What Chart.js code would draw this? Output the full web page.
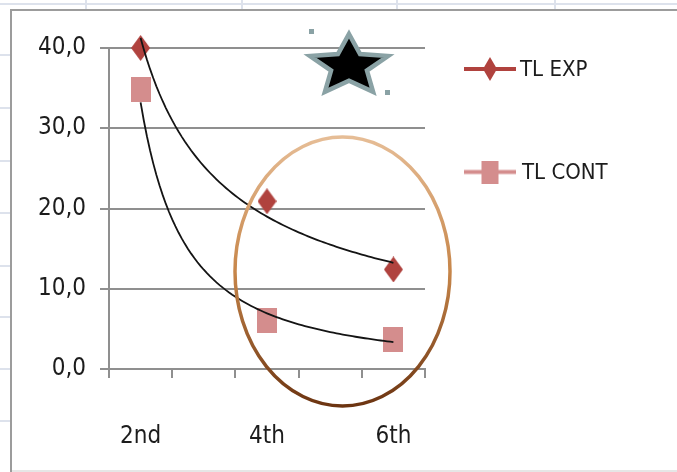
<!DOCTYPE html>
<html>
<head>
<meta charset="utf-8">
<script src="https://cdn.jsdelivr.net/npm/chart.js@4.4.1/dist/chart.umd.min.js"></script>
<style>
  html, body { margin: 0; padding: 0; background: #fff; }
  canvas { display: block; }
</style>
</head>
<body>
<canvas id="chart" width="677" height="472"></canvas>
<script>
// Grades on the category axis; every other label is shown
const grades = ['2nd', '3rd', '4th', '5th', '6th'];
// Series values (no measurement for 3rd and 5th)
const tlExp = [40.0, null, 20.9, null, 12.4];
const tlCont = [34.8, null, 6.0, null, 3.7];
const seriesNames = ['TL EXP', 'TL CONT'];
const yTicks = [0, 10, 20, 30, 40];

const FONT = "'DejaVu Sans Condensed', 'DejaVu Sans', sans-serif";
const TEXT = '#1c1c1c';
const AXIS = '#8f8f8f';
const EXP_COLOR = '#b0423e';
const CONT_COLOR = '#d48d8d';

// Least-squares power trendline y = a * x^b over the category index (1-based)
function powerTrend(values) {
  const pts = values.map((v, i) => [i + 1, v]).filter(p => p[1] != null);
  const n = pts.length;
  let sx = 0, sy = 0, sxx = 0, sxy = 0;
  pts.forEach(([x, y]) => {
    const lx = Math.log(x), ly = Math.log(y);
    sx += lx; sy += ly; sxx += lx * lx; sxy += lx * ly;
  });
  const b = (n * sxy - sx * sy) / (n * sxx - sx * sx);
  const a = Math.exp((sy - b * sx) / n);
  const x0 = pts[0][0], x1 = pts[n - 1][0];
  const out = [];
  const steps = 80;
  for (let k = 0; k <= steps; k++) {
    const x = x0 + (x1 - x0) * k / steps;
    out.push({ x, y: a * Math.pow(x, b) });
  }
  return out;
}

// Marker sprites: optional legend line behind a diamond or square
function markSprite(shape, w, h, color, lineLen, lineW) {
  const cw = Math.max(w, lineLen || 0), ch = h;
  const c = document.createElement('canvas');
  c.width = cw; c.height = ch;
  const g = c.getContext('2d');
  if (lineLen) {
    g.strokeStyle = color; g.lineWidth = lineW;
    g.beginPath(); g.moveTo(0, ch / 2); g.lineTo(cw, ch / 2); g.stroke();
  }
  g.fillStyle = color;
  if (shape === 'diamond') {
    g.beginPath();
    g.moveTo(cw / 2, 0); g.lineTo(cw / 2 + w / 2, ch / 2);
    g.lineTo(cw / 2, ch); g.lineTo(cw / 2 - w / 2, ch / 2);
    g.closePath(); g.fill();
  } else {
    g.fillRect((cw - w) / 2, 0, w, h);
  }
  return c;
}

const expMark = markSprite('diamond', 19, 26, EXP_COLOR);
const contMark = markSprite('square', 20, 25, CONT_COLOR);
const expLegend = markSprite('diamond', 14, 24, EXP_COLOR, 52, 4);
const contLegend = markSprite('square', 17, 23, CONT_COLOR, 52, 4);

// Sheet background, chart frame, and the hand-drawn highlights
const decor = {
  id: 'decor',
  beforeDraw(chart) {
    const g = chart.ctx;
    g.save();
    g.fillStyle = '#fff';
    g.fillRect(0, 0, chart.width, chart.height);
    // worksheet cell lines peeking around the chart object
    g.strokeStyle = '#dde2ec';
    g.lineWidth = 2;
    g.beginPath(); g.moveTo(0, 4); g.lineTo(chart.width, 4); g.stroke();
    [86, 242, 397, 555].forEach(x => { g.beginPath(); g.moveTo(x, 0); g.lineTo(x, 9); g.stroke(); });
    [55, 108, 161, 213, 266, 317, 369, 421].forEach(y => { g.beginPath(); g.moveTo(0, y); g.lineTo(10, y); g.stroke(); });
    g.strokeStyle = '#e6e6e6';
    g.beginPath(); g.moveTo(11, 471); g.lineTo(chart.width, 471); g.stroke();
    // chart frame
    g.strokeStyle = '#9c9c9c';
    g.lineWidth = 2;
    g.beginPath(); g.moveTo(11, chart.height); g.lineTo(11, 10); g.lineTo(chart.width, 10); g.stroke();
    g.restore();
  },
  afterDatasetsDraw(chart) {
    const g = chart.ctx;
    g.save();
    // oval around the 4th and 6th grade points
    const cx = 342.5, cy = 271.5, rx = 107.5, ry = 134.5;
    const grad = g.createLinearGradient(0, cy - ry, 0, cy + ry);
    grad.addColorStop(0, '#e6bd96');
    grad.addColorStop(0.5, '#c7864a');
    grad.addColorStop(1, '#6c3411');
    g.strokeStyle = grad;
    g.lineWidth = 3.5;
    g.beginPath(); g.ellipse(cx, cy, rx, ry, 0, 0, Math.PI * 2); g.stroke();
    // star
    const sx = 349, sy = 66, Rx = 41, Ry = 32, ratio = 0.46;
    g.beginPath();
    for (let k = 0; k < 10; k++) {
      const ang = -Math.PI / 2 + k * Math.PI / 5;
      const r = k % 2 === 0 ? 1 : ratio;
      const px = sx + Math.cos(ang) * Rx * r, py = sy + Math.sin(ang) * Ry * r;
      if (k === 0) g.moveTo(px, py); else g.lineTo(px, py);
    }
    g.closePath();
    g.fillStyle = '#000';
    g.fill();
    g.strokeStyle = '#8aa2a5';
    g.lineWidth = 4.5;
    g.lineJoin = 'miter';
    g.miterLimit = 10;
    g.stroke();
    g.fillStyle = '#8aa2a5';
    g.fillRect(309, 29, 5, 5);
    g.fillRect(385, 90, 5, 5);
    g.restore();
  },
  // Legend: line-and-marker key beside each series name
  afterDraw(chart) {
    const g = chart.ctx;
    const items = chart.data.datasets.filter(d => d.inLegend);
    const rows = [{ cx: 490, cy: 69, tx: 520 }, { cx: 490, cy: 172, tx: 522 }];
    g.save();
    g.font = "22px " + FONT;
    g.fillStyle = TEXT;
    g.textBaseline = 'middle';
    g.textAlign = 'left';
    items.forEach((d, i) => {
      const r = rows[i], img = d.legendMark;
      g.drawImage(img, r.cx - img.width / 2, r.cy - img.height / 2);
      g.fillText(d.label, r.tx, r.cy + 1);
    });
    g.restore();
  }
};

const trendStyle = {
  type: 'line', xAxisID: 'xt', yAxisID: 'y',
  borderColor: '#141414', borderWidth: 1.8, pointRadius: 0,
  tension: 0, clip: false, order: 0, inLegend: false
};

new Chart(document.getElementById('chart'), {
  type: 'line',
  data: {
    labels: grades,
    datasets: [
      { label: seriesNames[0], data: tlExp, showLine: false, xAxisID: 'x', yAxisID: 'y',
        pointStyle: expMark, pointRadius: 10, pointHoverRadius: 10,
        borderColor: EXP_COLOR, backgroundColor: EXP_COLOR, clip: false, order: 1,
        inLegend: true, legendMark: expLegend },
      { label: seriesNames[1], data: tlCont, showLine: false, xAxisID: 'x', yAxisID: 'y',
        pointStyle: contMark, pointRadius: 10, pointHoverRadius: 10,
        borderColor: CONT_COLOR, backgroundColor: CONT_COLOR, clip: false, order: 1,
        inLegend: true, legendMark: contLegend },
      Object.assign({ label: seriesNames[0] + ' trend', data: powerTrend(tlExp) }, trendStyle),
      Object.assign({ label: seriesNames[1] + ' trend', data: powerTrend(tlCont) }, trendStyle)
    ]
  },
  options: {
    responsive: false,
    animation: false,
    devicePixelRatio: 1,
    events: [],
    layout: { padding: { left: 24, right: 252, top: 14, bottom: 20 } },
    plugins: {
      tooltip: { enabled: false },
      legend: { display: false }
    },
    scales: {
      x: {
        type: 'category',
        offset: true,
        afterFit: s => { s.height = 83; },
        grid: { display: true, drawOnChartArea: false, offset: true, tickLength: 9, color: AXIS, lineWidth: 2 },
        border: { color: AXIS, width: 2 },
        ticks: {
          autoSkip: false, maxRotation: 0, padding: 44, color: TEXT,
          font: { family: FONT, size: 24 },
          callback: (v, i) => (i % 2 === 0 ? grades[i] : '')
        }
      },
      xt: { type: 'linear', display: false, min: 0.5, max: 5.5 },
      y: {
        min: 0, max: 40,
        afterBuildTicks: s => { s.ticks = yTicks.map(v => ({ value: v })); },
        afterFit: s => { s.width = 85; s.paddingTop = 48; },
        grid: { color: AXIS, lineWidth: 2, tickLength: 9 },
        border: { color: AXIS, width: 2 },
        ticks: {
          padding: 14, color: TEXT,
          font: { family: FONT, size: 24 },
          callback: v => v.toFixed(1).replace('.', ',')
        }
      }
    }
  },
  plugins: [decor]
});
</script>
</body>
</html>
